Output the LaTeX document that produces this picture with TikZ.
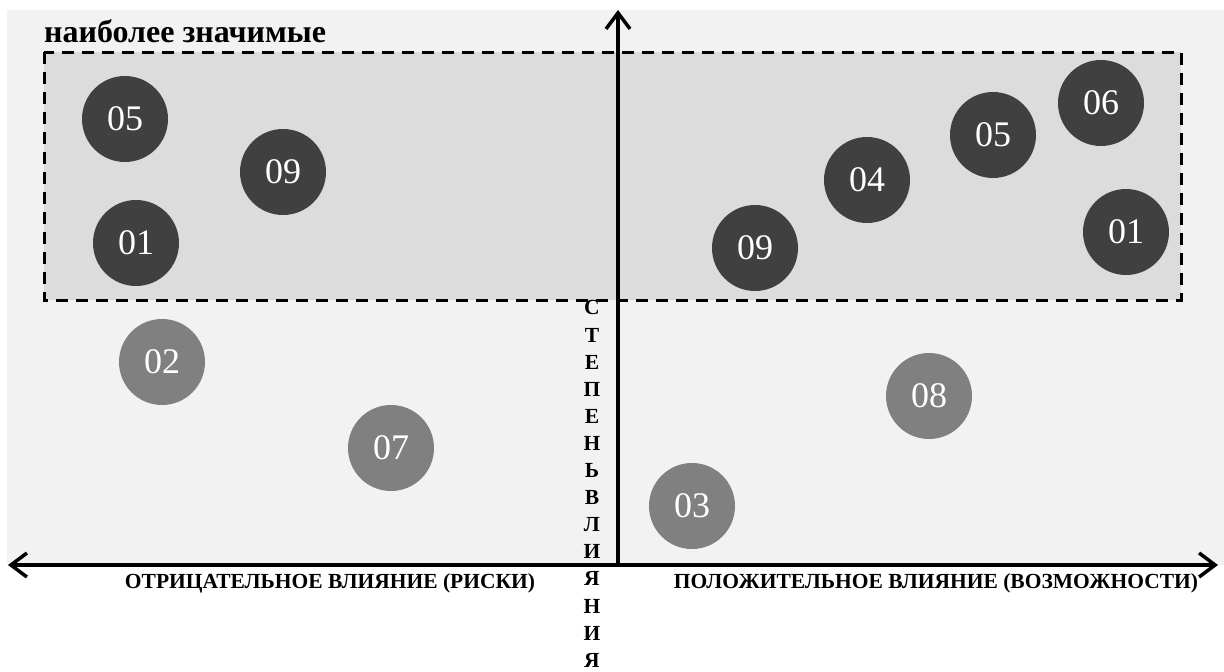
\documentclass[tikz,border=0pt]{standalone}
\usepackage{fontspec}
\setmainfont{Liberation Serif}
\usetikzlibrary{arrows.meta}
\definecolor{bgfill}{HTML}{F2F2F2}
\definecolor{boxfill}{HTML}{DCDCDC}
\definecolor{darkdot}{HTML}{404040}
\definecolor{lightdot}{HTML}{808080}
\tikzset{
  riskdot/.style={circle,minimum size=86pt,inner sep=0pt,text=white,
    font=\fontsize{36}{36}\selectfont},
  topdot/.style={riskdot,fill=darkdot},
  lowdot/.style={riskdot,fill=lightdot},
  axisline/.style={line width=3.5pt},
  barb/.tip={Straight Barb[length=16pt,width=24pt,line width=3.5pt]},
  axislabel/.style={inner sep=0pt,font=\bfseries\fontsize{21.5}{21.5}\selectfont},
  keybox/.style={draw=black,fill=boxfill,line width=3pt,dash pattern=on 12pt off 8pt},
}
\begin{document}
\begin{tikzpicture}[x=1pt,y=-1pt]
\useasboundingbox (0,0) rectangle (1224,672);
\fill [bgfill] (7,10) rectangle (1224,565);
\draw [keybox] (44,52) rectangle (1181,300);
\node [anchor=base west,inner sep=0pt,font=\bfseries\fontsize{32}{32}\selectfont] (title) at (44,42) {наиболее значимые};

\coordinate (origin) at (618,565);
\coordinate (leftend) at (8,565);
\coordinate (rightend) at (1218,565);
\coordinate (topend) at (618,10);
\draw [axisline,barb-barb] (leftend) -- (rightend);
\draw [axisline,-barb] (origin) -- (topend);

\node [axislabel] (neg) at (330,583) {ОТРИЦАТЕЛЬНОЕ ВЛИЯНИЕ (РИСКИ)};
\node [axislabel] (pos) at (936,583) {ПОЛОЖИТЕЛЬНОЕ ВЛИЯНИЕ (ВОЗМОЖНОСТИ)};
\node [axislabel,align=center,font=\bfseries\fontsize{21.5}{27.1}\selectfont] (degree) at (592,484)
  {С\\Т\\Е\\П\\Е\\Н\\Ь\\В\\Л\\И\\Я\\Н\\И\\Я};

% negative side
\node [topdot] (n05) at (125,119) {05};
\node [topdot] (n09) at (283,172) {09};
\node [topdot] (n01) at (136,243) {01};
\node [lowdot] (n02) at (162,362) {02};
\node [lowdot] (n07) at (391,448) {07};
% positive side
\node [topdot] (p09) at (755,248) {09};
\node [topdot] (p04) at (867,180) {04};
\node [topdot] (p05) at (993,135) {05};
\node [topdot] (p06) at (1101,103) {06};
\node [topdot] (p01) at (1126,232) {01};
\node [lowdot] (p03) at (692,506) {03};
\node [lowdot] (p08) at (929,396) {08};
\end{tikzpicture}
\end{document}
